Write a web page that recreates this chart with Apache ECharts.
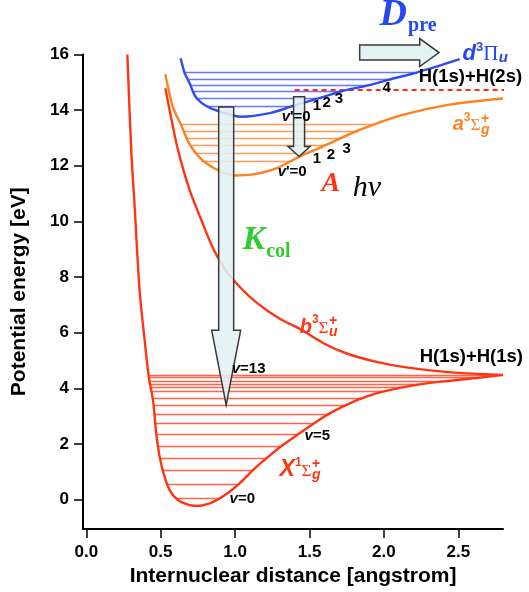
<!DOCTYPE html>
<html>
<head>
<meta charset="utf-8">
<script src="https://cdn.jsdelivr.net/npm/echarts@6/dist/echarts.min.js"></script>
<style>
  html, body { margin: 0; padding: 0; background: #fff; }
  #chart { width: 529px; height: 592px; }
</style>
</head>
<body>
<div id="chart"></div>
<script>
// H2 potential energy curves: internuclear distance r [angstrom] vs energy E [eV]

// Ground state X 1Σg+
const curveX = [[0.276,16.0],[0.302,12.57],[0.325,10.53],[0.358,7.53],[0.392,5.74],[0.421,4.37],[0.448,3.58],[0.470,2.38],[0.493,1.54],[0.526,0.82],[0.560,0.34],[0.616,-0.02],[0.694,-0.20],[0.750,-0.23],[0.829,-0.14],[0.896,0.04],[0.963,0.28],[1.030,0.58],[1.120,1.06],[1.210,1.48],[1.321,1.96],[1.433,2.38],[1.546,2.80],[1.657,3.16],[1.770,3.46],[1.882,3.70],[1.993,3.88],[2.218,4.12],[2.442,4.27],[2.665,4.39],[2.80,4.48]];
// Repulsive b 3Σu+
const curveB = [[0.531,14.79],[0.575,13.6],[0.616,12.57],[0.694,11.13],[0.773,10.05],[0.85,9.05],[0.93,8.3],[1.03,7.65],[1.15,7.05],[1.30,6.5],[1.43,6.15],[1.60,5.6],[1.75,5.25],[1.95,4.95],[2.15,4.75],[2.45,4.57],[2.80,4.48]];
// a 3Σg+
const curveA = [[0.531,15.29],[0.582,14.12],[0.637,13.47],[0.694,12.78],[0.78,12.2],[0.896,11.81],[0.997,11.65],[1.118,11.69],[1.277,11.91],[1.434,12.33],[1.588,12.69],[1.837,13.29],[2.126,13.83],[2.44,14.2],[2.80,14.42]];
// d 3Πu
const curveD = [[0.634,15.86],[0.66,15.35],[0.68,15.12],[0.70,14.90],[0.716,14.67],[0.743,14.42],[0.806,14.15],[0.896,13.95],[1.042,13.76],[1.232,13.89],[1.39,14.15],[1.56,14.42],[1.71,14.67],[1.90,14.90],[2.05,15.12],[2.22,15.35],[2.51,15.83]];

// Vibrational levels: energy, left turning point, right turning point
const levelsX_E = [4.48,4.38,4.27,4.14,4.02,3.88,3.64,3.40,3.06,2.74,2.34,1.93,1.50,1.06,0.55,0.04];
const levelsX_L = [0.417,0.421,0.424,0.428,0.433,0.437,0.446,0.451,0.457,0.463,0.471,0.482,0.495,0.515,0.545,0.608];
const levelsX_R = [2.80,2.64,2.44,2.24,2.12,1.99,1.85,1.75,1.63,1.53,1.42,1.31,1.21,1.12,1.02,0.896];

const levelsA_E = [13.48,13.24,13.0,12.72,12.45,12.15];
const levelsA_L = [0.635,0.65,0.67,0.695,0.725,0.77];
const levelsA_R = [1.94,1.82,1.71,1.60,1.48,1.37];

const levelsD_E = [15.35,15.12,14.90,14.67,14.42,14.15];
const levelsD_L = [0.66,0.68,0.70,0.716,0.743,0.806];
const levelsD_R = [2.22,2.05,1.90,1.71,1.56,1.39];

// H(1s)+H(2s) dissociation limit
const limit2s = [[1.40,14.72],[2.81,14.72]];

// Axis ticks
const xTicks = [0, 0.5, 1.0, 1.5, 2.0, 2.5];
const yTicks = [0, 2, 4, 6, 8, 10, 12, 14, 16];

const SANS = '"Liberation Sans", Arial, Helvetica, sans-serif';
const SERIF = '"Liberation Serif", "Times New Roman", serif';
const RED = '#ff3512';
const ORANGE = '#ff801f';
const BLUE = '#2e4cf0';
const BLUE_T = '#2447ee';
const GREEN = '#2fcc2f';

function levelData(E, L, R) {
  return E.map((e, i) => ({ coords: [[L[i], e], [R[i], e]] }));
}

function curveSeries(data, color) {
  return {
    type: 'line', data: data, smooth: 0.3,
    showSymbol: false, silent: true, z: 4,
    lineStyle: { color: color, width: 2.4 }
  };
}

function levelSeries(data, color) {
  return {
    type: 'lines', coordinateSystem: 'cartesian2d', data: data, silent: true, z: 2,
    lineStyle: { color: color, width: 1.3, opacity: 0.85 }
  };
}

const axisFont = { color: '#000', fontSize: 17, fontWeight: 'bold', fontFamily: SANS };
const nameFont = { color: '#000', fontSize: 21, fontWeight: 'bold', fontFamily: SANS };

const chart = echarts.init(document.getElementById('chart'), null, { renderer: 'canvas' });

chart.setOption({
  animation: false,
  backgroundColor: '#fff',
  grid: { left: 83, right: 26, top: 54.5, bottom: 63 },
  xAxis: {
    type: 'value', min: -0.022, max: 2.8,
    axisLine: { onZero: false, lineStyle: { color: '#000', width: 2 } },
    axisTick: { show: true, length: 9, customValues: xTicks, lineStyle: { color: '#000', width: 1.5 } },
    axisLabel: Object.assign({ customValues: xTicks, margin: 15, formatter: v => v.toFixed(1) }, axisFont),
    splitLine: { show: false },
    name: 'Internuclear distance [angstrom]', nameLocation: 'middle', nameGap: 37,
    nameTextStyle: nameFont
  },
  yAxis: {
    type: 'value', min: -1.06, max: 16,
    axisLine: { onZero: false, lineStyle: { color: '#000', width: 2 } },
    axisTick: { show: true, length: 9, customValues: yTicks, lineStyle: { color: '#000', width: 1.5 } },
    axisLabel: Object.assign({ customValues: yTicks, margin: 14 }, axisFont),
    splitLine: { show: false },
    name: 'Potential energy [eV]', nameLocation: 'middle', nameGap: 53,
    nameTextStyle: nameFont
  },
  series: [
    levelSeries(levelData(levelsX_E, levelsX_L, levelsX_R), '#ff4a2a'),
    levelSeries(levelData(levelsA_E, levelsA_L, levelsA_R), '#ff8a3a'),
    levelSeries(levelData(levelsD_E, levelsD_L, levelsD_R), '#4a64f2'),
    {
      type: 'lines', coordinateSystem: 'cartesian2d', silent: true, z: 3,
      data: [{ coords: limit2s }],
      lineStyle: { color: '#ff2a1a', width: 2, type: [5, 4], opacity: 1 }
    },
    curveSeries(curveX, RED),
    curveSeries(curveB, RED),
    curveSeries(curveA, ORANGE),
    curveSeries(curveD, BLUE)
  ]
});

// ---- annotations (arrows and labels), anchored in data coordinates ----
const toPx = p => chart.convertToPixel({ gridIndex: 0 }, p);
const mctx = document.createElement('canvas').getContext('2d');
function textWidth(t, f) { mctx.font = f; return mctx.measureText(t).width; }

function vArrow(a) {
  const top = toPx([a.x, a.top]), neck = toPx([a.x, a.neck]), tip = toPx([a.x, a.tip]);
  const cx = top[0];
  return {
    type: 'polygon', z: 60,
    shape: { points: [
      [cx - a.half, top[1]], [cx + a.half, top[1]], [cx + a.half, neck[1]],
      [cx + a.head, neck[1]], [cx, tip[1]], [cx - a.head, neck[1]], [cx - a.half, neck[1]]
    ] },
    style: { fill: 'rgba(226,241,242,0.88)', stroke: '#3a3a3a', lineWidth: 1.5 }
  };
}

function hArrow(a) {
  const tail = toPx([a.tail, a.y]), neck = toPx([a.neck, a.y]), tip = toPx([a.tip, a.y]);
  const cy = tail[1];
  return {
    type: 'polygon', z: 60,
    shape: { points: [
      [tail[0], cy - a.half], [neck[0], cy - a.half], [neck[0], cy - a.head],
      [tip[0], cy], [neck[0], cy + a.head], [neck[0], cy + a.half], [tail[0], cy + a.half]
    ] },
    style: { fill: 'rgba(226,241,242,0.95)', stroke: '#3a3a3a', lineWidth: 1.5 }
  };
}

function textRun(note) {
  const p = toPx(note.at);
  let x = p[0];
  const out = [];
  note.parts.forEach(part => {
    out.push({
      type: 'text', z: 80, x: x + (part.dx || 0), y: p[1] + (part.dy || 0),
      style: {
        text: part.t, font: part.f, fill: part.c || '#000',
        align: 'left', verticalAlign: 'middle', textAlign: 'left', textVerticalAlign: 'middle'
      }
    });
    if (!part.stay) x += textWidth(part.t, part.f) + (part.gap || 0);
  });
  return out;
}

const vLab = (E) => [
  { t: 'v', f: `italic bold 15px ${SANS}` },
  { t: E, f: `bold 15px ${SANS}` }
];
const num = (t) => [{ t: t, f: `bold 15px ${SANS}` }];

function term(letter, mult, sub, color, big) {
  return [
    { t: letter, f: `italic bold ${big}px ${SANS}`, c: color },
    { t: mult, f: `bold 12px ${SANS}`, c: color, dy: -7 },
    { t: 'Σ', f: `17px ${SERIF}`, c: color, dy: 1, gap: 0.5 },
    { t: sub, f: `italic bold 14px ${SANS}`, c: color, dy: 5, stay: true },
    { t: '+', f: `bold 14px ${SANS}`, c: color, dy: -6 }
  ];
}

const notes = [
  { at: [1.971, 17.42], parts: [
    { t: 'D', f: `italic bold 38px ${SERIF}`, c: BLUE_T, gap: 1 },
    { t: 'pre', f: `bold 20px ${SERIF}`, c: BLUE_T, dy: 11 }
  ] },
  { at: [2.528, 16.02], parts: [
    { t: 'd', f: `italic bold 22px ${SANS}`, c: BLUE_T },
    { t: '3', f: `bold 13px ${SANS}`, c: BLUE_T, dy: -7 },
    { t: 'Π', f: `21px ${SERIF}`, c: BLUE_T, dy: 1, gap: 0.5 },
    { t: 'u', f: `italic bold 15px ${SANS}`, c: BLUE_T, dy: 4 }
  ] },
  { at: [2.234, 15.19], parts: [{ t: 'H(1s)+H(2s)', f: `bold 18.5px ${SANS}` }] },
  { at: [1.991, 14.80], parts: num('4') },
  { at: [1.313, 13.75], parts: vLab("'=0") },
  { at: [1.521, 14.15], parts: num('1') },
  { at: [1.588, 14.26], parts: num('2') },
  { at: [1.669, 14.40], parts: num('3') },
  { at: [1.286, 11.79], parts: vLab("'=0") },
  { at: [1.521, 12.26], parts: num('1') },
  { at: [1.615, 12.39], parts: num('2') },
  { at: [1.722, 12.60], parts: num('3') },
  { at: [1.581, 11.35], parts: [{ t: 'A', f: `italic bold 28px ${SERIF}`, c: RED }] },
  { at: [1.790, 11.20], parts: [{ t: 'hν', f: `italic 30px ${SERIF}`, c: '#000' }] },
  { at: [2.462, 13.47], parts: term('a', '3', 'g', ORANGE, 20) },
  { at: [1.050, 9.33], parts: [
    { t: 'K', f: `italic bold 34px ${SERIF}`, c: GREEN, gap: 1 },
    { t: 'col', f: `bold 20px ${SERIF}`, c: GREEN, dy: 12 }
  ] },
  { at: [1.434, 6.20], parts: term('b', '3', 'u', RED, 20) },
  { at: [2.240, 5.12], parts: [{ t: 'H(1s)+H(1s)', f: `bold 18.5px ${SANS}` }] },
  { at: [0.977, 4.71], parts: vLab('=13') },
  { at: [1.467, 2.28], parts: vLab('=5') },
  { at: [1.299, 1.06], parts: term('X', '1', 'g', RED, 23) },
  { at: [0.963, 0.04], parts: vLab('=0') }
];

const arrows = [
  vArrow({ x: 0.94, top: 14.11, neck: 6.09, tip: 3.40, half: 7.5, head: 14.5 }),
  vArrow({ x: 1.43, top: 14.48, neck: 12.69, tip: 12.33, half: 5.5, head: 11 }),
  hArrow({ y: 16.07, tail: 1.837, neck: 2.24, tip: 2.37, half: 7.5, head: 14 })
];

let labels = [];
notes.forEach(n => { labels = labels.concat(textRun(n)); });

chart.setOption({ graphic: arrows.concat(labels) });
</script>
</body>
</html>
